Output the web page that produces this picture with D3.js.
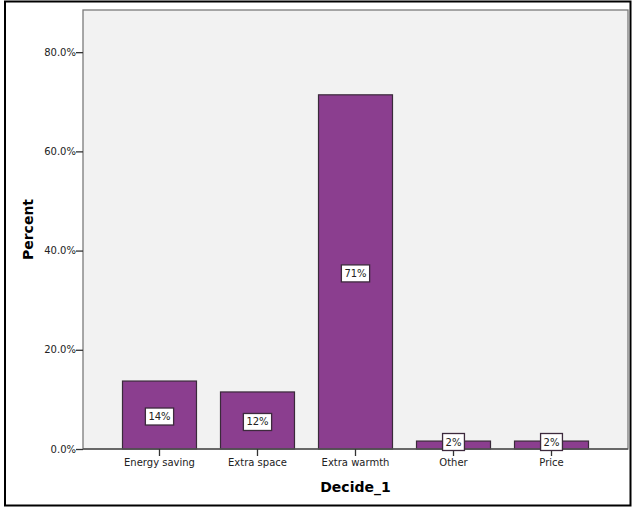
<!DOCTYPE html>
<html><head><meta charset="utf-8">
<script src="https://cdn.jsdelivr.net/npm/d3@7"></script>
<style>
body{margin:0;background:#fff;}
svg{display:block;}
text{font-family:"DejaVu Sans",sans-serif;}
</style></head><body>
<svg id="c" width="633" height="508"></svg>
<script>
const categories = ["Energy saving","Extra space","Extra warmth","Other","Price"];
const percents = [13.7, 11.5, 71.4, 1.6, 1.6];
const barLabels = ["14%","12%","71%","2%","2%"];
const yTicks = [0, 20, 40, 60, 80];
const xTitle = "Decide_1";
const yTitle = "Percent";

const svg = d3.select("#c");
const mLeft = 83, mRight = 628, mTop = 10, mBottom = 449;

// outer frame
svg.append("rect").attr("x",5).attr("y",1.5).attr("width",625.5).attr("height",504)
  .attr("fill","#fff").attr("stroke","#000").attr("stroke-width",2);

const x = d3.scaleBand().domain(categories).range([mLeft,mRight]).paddingInner(0.245).paddingOuter(0.403);
const y = d3.scaleLinear().domain([0,88.5]).range([mBottom,mTop]);

// plot background
svg.append("rect").attr("x",mLeft).attr("y",mTop).attr("width",mRight-mLeft).attr("height",mBottom-mTop)
  .attr("fill","#f2f2f2").attr("stroke","#7a7a7a").attr("stroke-width",1.3);

// bars
svg.selectAll("rect.bar").data(categories).join("rect").attr("class","bar")
  .attr("x",d=>x(d)).attr("width",x.bandwidth())
  .attr("y",(d,i)=>y(percents[i])).attr("height",(d,i)=>y(0)-y(percents[i]))
  .attr("fill","#8b3e8f").attr("stroke","#3a2a3a").attr("stroke-width",1.2);

// y axis
const yAxis = d3.axisLeft(y).tickValues(yTicks).tickSize(7).tickPadding(0).tickFormat(d=>d.toFixed(1)+"%");
const gy = svg.append("g").attr("transform",`translate(${mLeft},0)`).call(yAxis);
gy.select(".domain").remove();
gy.selectAll("line").attr("stroke","#333").attr("stroke-width",1.3);
gy.selectAll("text").attr("font-size",10).attr("fill","#222");

// x axis
const xAxis = d3.axisBottom(x).tickSize(7).tickPadding(3);
const gx = svg.append("g").attr("transform",`translate(0,${mBottom})`).call(xAxis);
gx.select(".domain").attr("stroke","#555").attr("stroke-width",1.3).attr("d",`M${mLeft},0H${mRight}`);
gx.selectAll("line").attr("stroke","#333").attr("stroke-width",1.3);
gx.selectAll("text").attr("font-size",10).attr("fill","#222");

// value labels
const lab = svg.selectAll("g.lab").data(categories).join("g").attr("class","lab")
  .attr("transform",(d,i)=>{
    const yc = Math.min((y(percents[i])+y(0))/2 + 1.5, y(0)-7);
    return `translate(${x(d)+x.bandwidth()/2},${yc})`;
  });
lab.each(function(d,i){
  const g = d3.select(this);
  const t = g.append("text").attr("text-anchor","middle").attr("dy","0.35em")
    .attr("font-size",10).attr("fill","#222").text(barLabels[i]);
  const w = t.node().getComputedTextLength();
  g.insert("rect","text").attr("x",-w/2-3).attr("y",-8.5).attr("width",w+6).attr("height",17)
    .attr("fill","#fff").attr("stroke","#3d2a3d").attr("stroke-width",1.3);
});

// titles
svg.append("text").attr("x",(mLeft+mRight)/2).attr("y",492).attr("text-anchor","middle")
  .attr("font-size",14).attr("font-weight","bold").attr("fill","#000").text(xTitle);
svg.append("text").attr("transform",`translate(33,${(mTop+mBottom)/2}) rotate(-90)`)
  .attr("text-anchor","middle").attr("font-size",14).attr("font-weight","bold").attr("fill","#000").text(yTitle);
</script></body></html>
